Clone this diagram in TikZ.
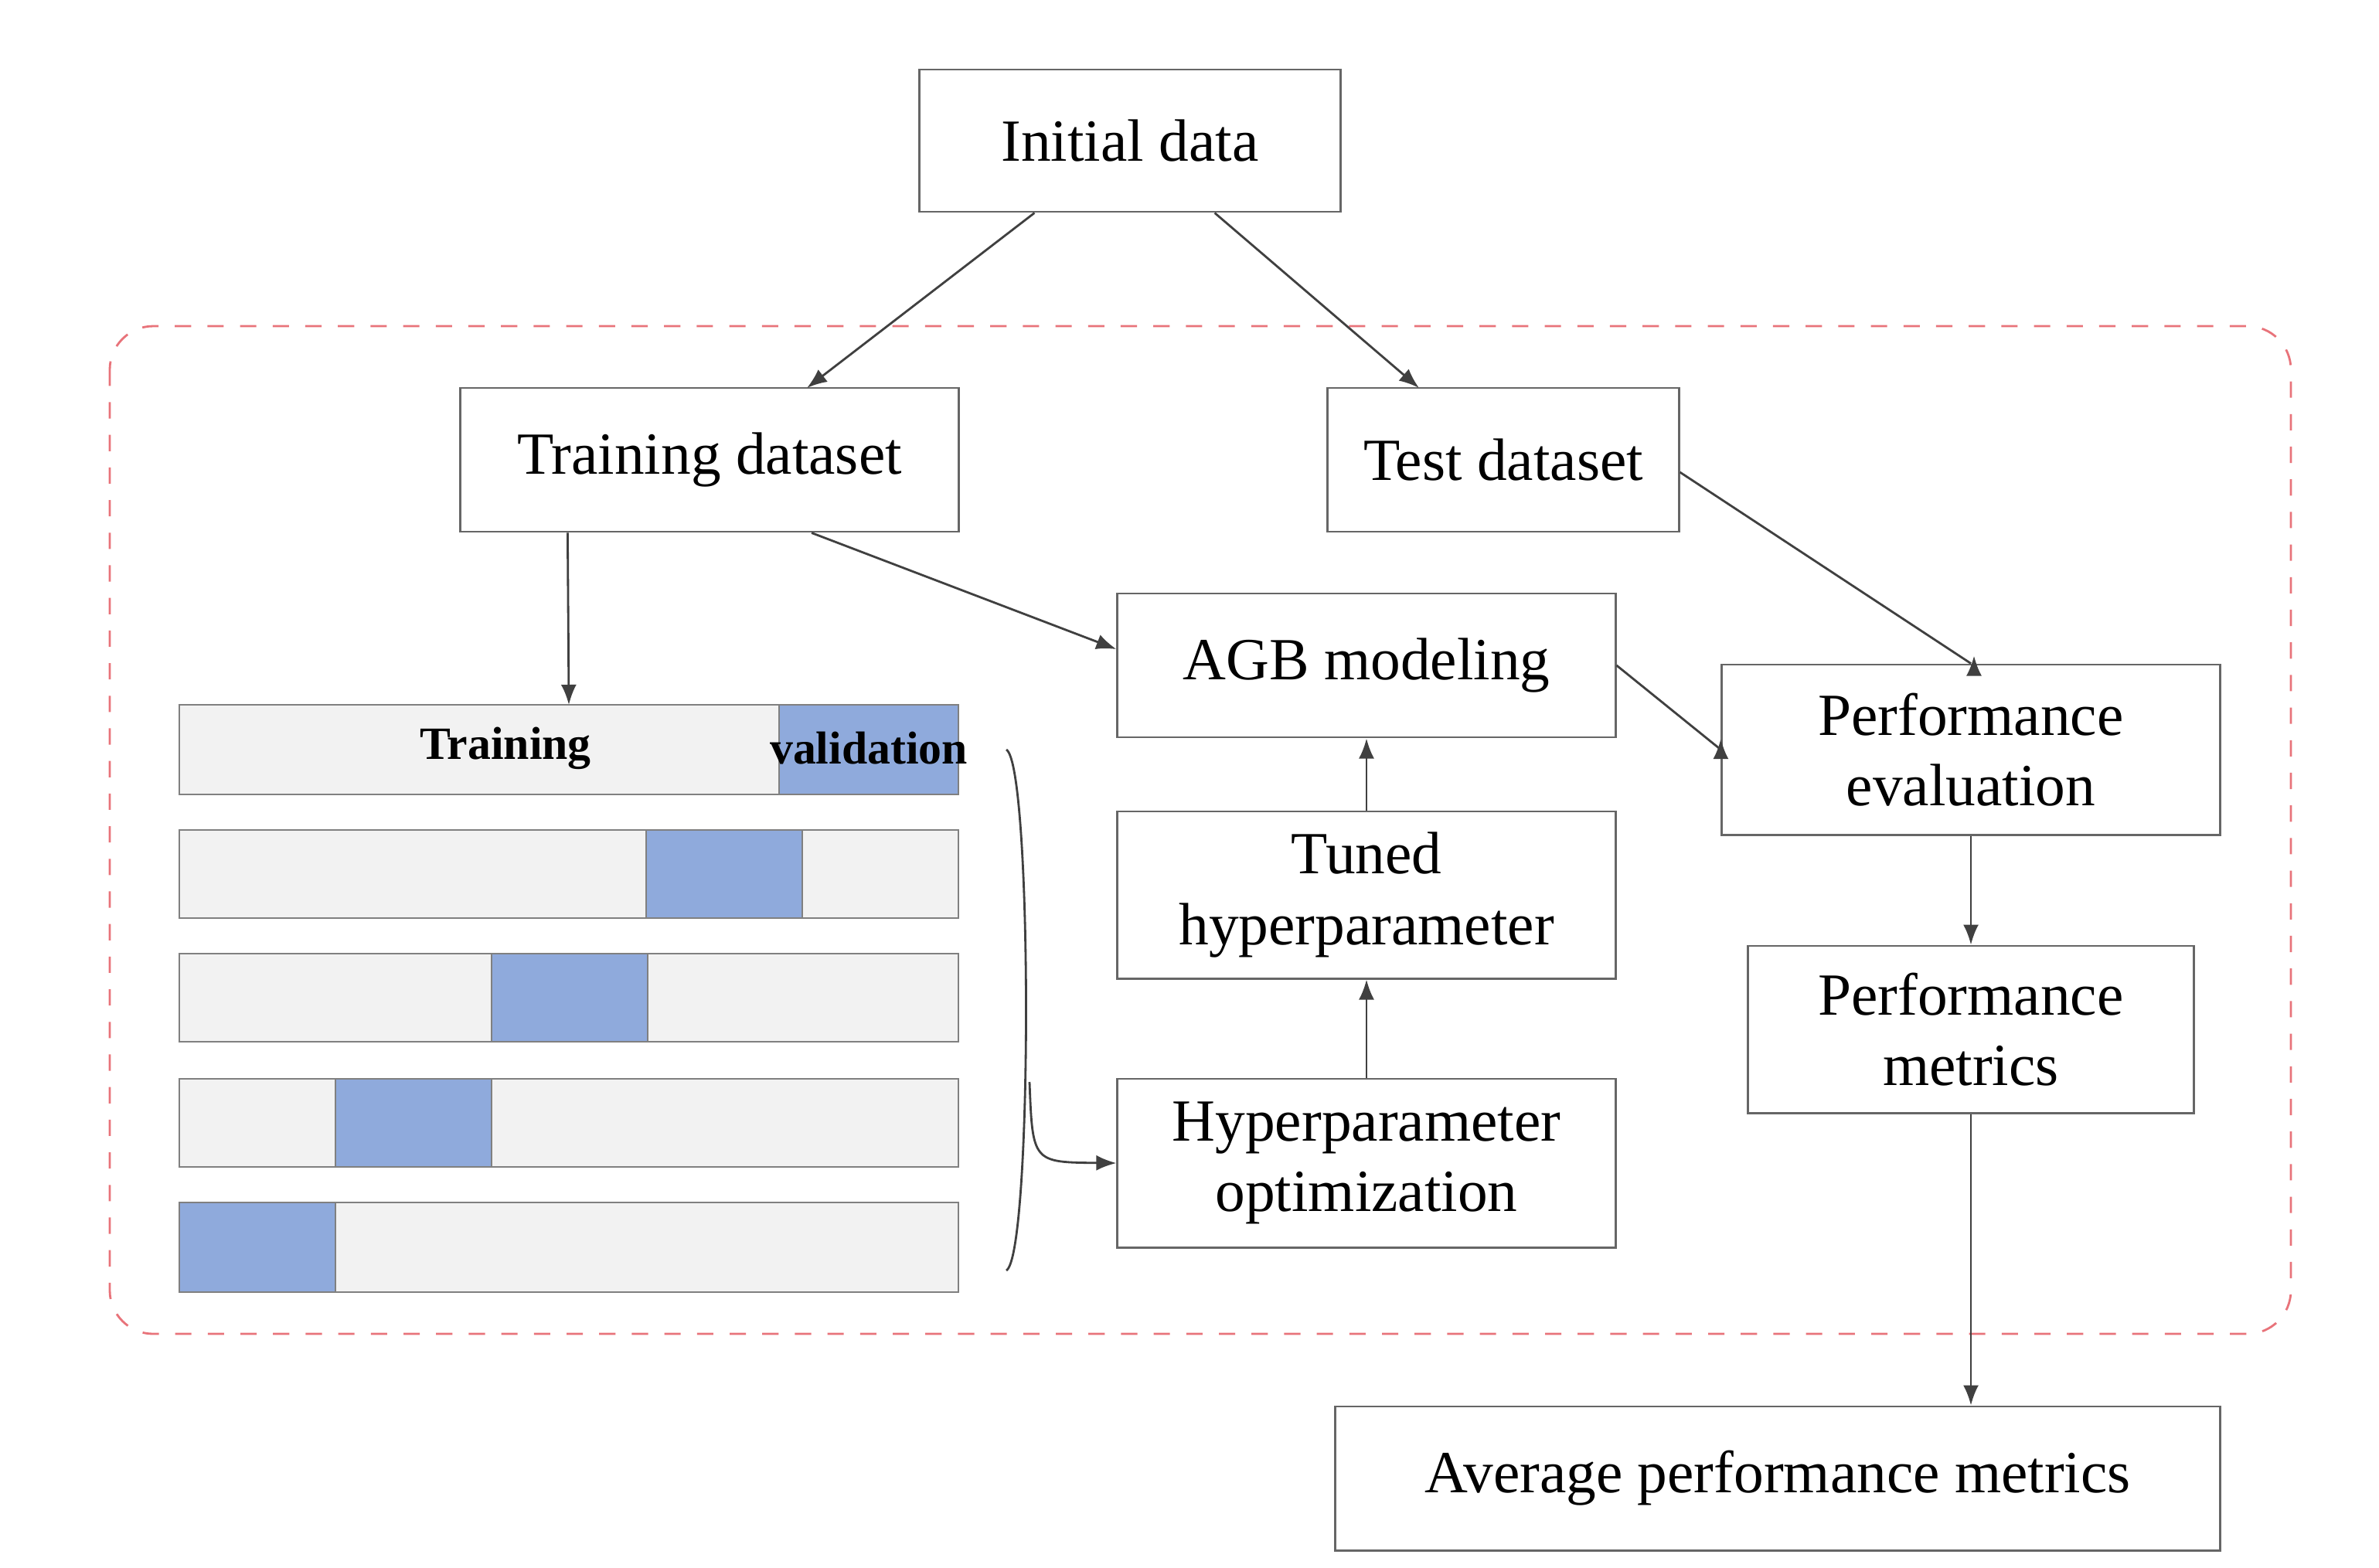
\documentclass[tikz,border=0pt]{standalone}
\usepackage{fontspec}
\setmainfont{Liberation Serif}
\usetikzlibrary{arrows.meta}
\definecolor{valblue}{HTML}{8FAADC}
\definecolor{barfill}{HTML}{F2F2F2}
\definecolor{dashred}{HTML}{E8737A}
\tikzset{
  box/.style={draw=black!60, fill=white, align=center, inner sep=0pt, font=\fontsize{11}{13}\selectfont},
  arr/.style={-{Latex[length=1.3mm,width=1mm]}, black!75, thin},
  bar/.style={draw=black!50, fill=barfill},
  val/.style={draw=black!50, fill=valblue}
}
\begin{document}
\begin{tikzpicture}[x=0.01cm,y=-0.01cm]
		\useasboundingbox (0,0) rectangle (1539,1014);
		\draw [dashred, dashed, rounded corners=8pt] (71,211) rectangle (1482,863);
		% boxes
		\node[box, minimum width=2.72cm, minimum height=0.92cm] (init) at (731,91) {Initial data};
		\node[box, minimum width=3.22cm, minimum height=0.93cm] (train) at (459,297.5) {Training dataset};
		\node[box, minimum width=2.27cm, minimum height=0.93cm] (test) at (972.5,297.5) {Test dataset};
		\node[box, minimum width=3.22cm, minimum height=0.93cm] (agb) at (884,430.5) {AGB modeling};
		\node[box, minimum width=3.22cm, minimum height=1.08cm] (tuned) at (884,579) {Tuned\\hyperparameter};
		\node[box, minimum width=3.22cm, minimum height=1.09cm] (hopt) at (884,752.5) {Hyperparameter\\optimization};
		\node[box, minimum width=3.22cm, minimum height=1.10cm] (peval) at (1275,485) {Performance\\evaluation};
		\node[box, minimum width=2.88cm, minimum height=1.08cm] (pmet) at (1275,666) {Performance\\metrics};
		\node[box, minimum width=5.72cm, minimum height=0.93cm] (avg) at (1150,956.5) {Average performance metrics};
		% folds
		\foreach \ya/\yb/\va/\vb in {456/514/504/620, 537/594/418/519, 617/674/318/419, 698/755/217/318, 778/836/116/217} {
		  \draw[bar] (116,\ya) rectangle (620,\yb);
		  \draw[val] (\va,\ya) rectangle (\vb,\yb);
		}
		\coordinate (fold) at (368,456);
		\node[font=\fontsize{8.5}{10}\selectfont\bfseries] (trlab) at (327,484) {Training};
		\node[font=\fontsize{8.5}{10}\selectfont\bfseries] (vallab) at (562,484) {validation};
		% brace
		\coordinate (bt) at (651,485);
		\coordinate (bb) at (651,822);
		\coordinate (bm) at (666,700);
		\draw[black!75, thin] (bt) .. controls (668,495) and (668,812) .. (bb);
		\draw[arr] (bm) .. controls (668,752) .. (hopt.west);
		% connectors
		\draw[arr] (init.south west)++(75,0) -- (522,251);
		\draw[arr] (init.south east)++(-82,0) -- (918,251);
		\draw[arr] (train.south west)++(70,0) -- (fold);
		\draw[arr] (train.south)++(66,0) -- (agb.west |- 0,420);
		\draw[arr] (test.east)++(0,8) -- (peval.north)++(2,-5);
		\draw[arr] (agb.east) -- (peval.west)++(0,-7);
		\draw[arr] (tuned) -- (agb);
		\draw[arr] (hopt) -- (tuned);
		\draw[arr] (peval) -- (pmet);
		\draw[arr] (pmet) -- (avg.north -| pmet);
\end{tikzpicture}
\end{document}
